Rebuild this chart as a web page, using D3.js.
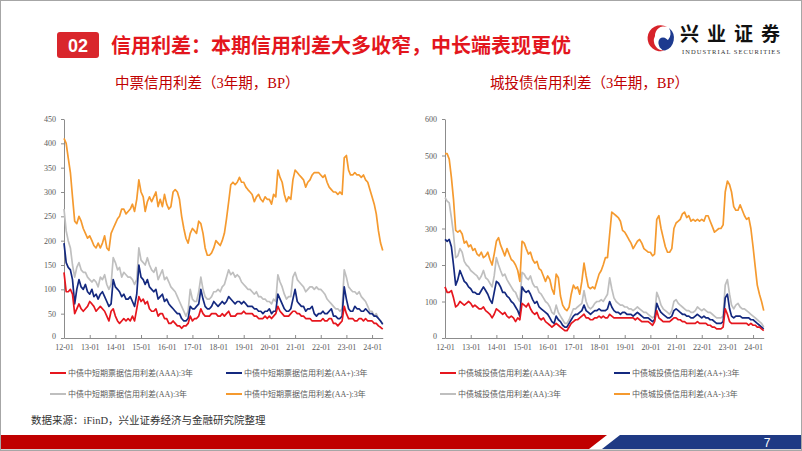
<!DOCTYPE html>
<html><head><meta charset="utf-8">
<script src="https://cdn.jsdelivr.net/npm/d3@7/dist/d3.min.js"></script>
<style>body{margin:0;background:#fff;}svg{display:block}</style>
</head><body>
<svg id="c" width="802" height="451"></svg>
<script>
// ---------- DATA ----------
const months = d3.timeMonth.range(new Date(2012,0,1), new Date(2024,6,1)); // 2012-01 .. 2024-06
const xTickLabels = ["12-01","13-01","14-01","15-01","16-01","17-01","18-01","19-01","20-01","21-01","22-01","23-01","24-01"];
const yTicksLeft = [0,50,100,150,200,250,300,350,400,450];
const yTicksRight = [0,100,200,300,400,500,600];

// 中票 (medium-term notes), 3Y, BP
const mtnAAA = [135,95,95,100,90,50,60,70,60,55,60,65,
 75,70,65,55,60,65,60,55,45,35,55,60,
 45,35,30,35,40,35,40,35,45,35,60,85,
 75,80,70,75,60,55,55,60,45,50,50,40,
 40,30,30,35,30,25,25,20,25,25,30,45,
 35,40,40,45,60,50,45,45,45,50,50,50,
 45,45,50,45,50,55,45,45,45,50,50,50,
 55,50,50,50,50,45,45,40,40,40,45,40,
 45,40,45,50,65,55,50,45,45,45,50,55,
 55,50,50,45,45,40,40,40,35,35,35,35,
 35,40,35,35,40,40,30,30,25,30,35,65,
 50,40,40,40,35,35,40,40,35,40,35,35,
 35,30,30,25,22,18];
const mtnAAp = [195,155,145,140,120,70,100,120,105,100,110,95,
 90,100,85,90,80,90,95,85,75,65,70,120,
 105,100,95,85,90,80,80,85,75,65,90,150,
 125,120,110,120,105,100,95,100,80,85,90,75,
 80,70,65,60,55,50,50,40,35,35,40,65,
 60,60,65,70,100,80,65,60,60,65,75,70,
 65,70,75,70,75,85,80,75,70,75,75,70,
 75,70,65,65,65,60,60,55,55,50,55,55,
 60,50,55,55,90,80,70,60,55,55,60,80,
 100,75,70,65,65,55,60,60,65,50,45,50,
 50,55,50,50,55,60,45,45,40,40,45,105,
 80,60,55,55,65,60,60,55,55,60,55,50,
 50,45,45,40,35,28];
const mtnAA = [265,220,200,185,150,125,145,155,140,135,135,125,
 120,115,120,115,105,125,120,130,110,100,110,165,
 155,140,145,125,135,130,125,125,120,110,120,185,
 160,155,150,165,150,140,135,145,120,130,140,120,
 125,115,105,100,95,85,75,65,55,45,55,100,
 80,75,75,95,125,100,85,80,80,85,95,95,
 100,95,105,110,125,140,130,135,125,130,125,115,
 110,105,100,100,95,90,95,85,85,80,80,75,
 75,70,80,75,130,115,105,90,80,85,85,125,
 135,120,115,110,105,95,100,105,105,100,105,100,
 100,95,90,80,75,70,65,60,60,55,60,140,
 125,105,100,95,95,90,95,85,80,75,65,55,
 55,45,50,40,35,30];
const mtnAAm = [410,400,370,340,290,240,235,250,240,225,215,205,
 210,200,190,185,195,185,195,210,185,180,215,225,
 235,245,250,265,265,255,260,265,275,260,285,325,
 300,290,260,280,290,280,290,300,270,285,270,295,
 275,265,270,300,305,300,285,250,225,205,195,215,
 225,220,215,240,235,215,185,170,170,175,185,200,
 195,190,200,215,245,280,315,320,315,320,330,320,
 320,310,305,300,295,280,290,295,285,280,290,285,
 285,275,295,290,345,330,320,295,280,290,285,325,
 345,340,335,330,325,310,320,325,335,340,340,340,
 335,330,335,320,310,305,300,300,295,300,295,370,
 375,345,335,335,340,335,335,330,335,325,320,305,
 290,275,255,220,195,180];

// 城投债 (LGFV bonds), 3Y, BP
const ctAAA = [140,125,125,130,110,85,90,100,95,90,95,100,
 95,85,90,85,80,80,85,75,70,65,55,65,
 80,75,70,65,70,60,55,60,55,45,55,50,
 95,90,85,95,80,70,65,70,55,50,55,45,
 40,35,30,35,40,35,30,25,20,20,30,40,
 45,50,50,55,60,65,55,55,50,50,55,55,
 60,55,60,55,55,65,60,55,55,55,55,55,
 55,55,55,55,55,50,55,50,45,45,45,45,
 40,35,45,75,55,50,45,45,45,45,50,55,
 55,50,50,45,45,40,40,40,40,40,45,40,
 40,40,40,35,35,30,30,25,25,25,30,80,
 65,45,40,40,40,40,40,40,40,40,35,40,
 35,35,30,30,25,20];
const ctAAp = [270,265,270,250,200,145,160,185,170,155,150,140,
 135,125,125,120,120,130,140,130,120,105,95,125,
 155,150,140,125,125,115,110,100,95,85,75,60,
 140,130,125,130,120,105,95,100,85,80,75,70,
 65,55,45,40,60,50,45,35,30,30,40,50,
 60,65,65,70,75,90,75,70,65,70,75,75,
 80,75,75,75,80,100,85,75,70,70,65,70,
 70,65,65,65,60,65,70,65,60,55,55,55,
 50,45,50,95,80,70,65,60,55,55,60,75,
 80,75,70,65,65,60,60,55,55,60,65,60,
 55,60,55,55,50,50,45,40,40,40,45,110,
 120,80,60,55,60,60,60,55,55,55,55,50,
 50,45,40,35,30,25];
const ctAA = [385,375,370,330,285,220,225,245,235,210,200,195,
 185,180,175,170,160,170,185,165,160,150,140,170,
 220,200,185,170,175,160,150,140,130,125,110,100,
 180,175,165,160,170,150,140,140,125,120,110,100,
 95,85,70,65,90,70,60,50,40,40,50,65,
 80,80,85,90,95,130,100,85,80,85,95,100,
 100,105,100,110,120,165,135,110,100,95,90,90,
 85,85,80,80,75,80,85,80,75,70,70,65,
 60,55,60,125,110,90,80,75,70,65,75,100,
 105,95,90,85,80,75,75,70,70,75,85,80,
 75,80,75,70,70,65,60,55,55,55,60,145,
 160,120,90,80,90,95,85,80,80,75,70,65,
 60,55,50,45,40,30];
const ctAAm = [505,505,490,440,380,295,290,295,285,260,265,250,
 255,240,245,230,225,235,220,225,235,215,200,230,
 265,275,255,240,225,245,230,215,210,200,185,155,
 265,260,245,230,235,215,205,210,190,185,170,155,
 170,160,135,120,175,165,115,90,80,75,85,120,
 145,135,140,120,155,205,170,140,135,140,135,155,
 175,185,200,220,220,285,345,340,335,330,320,295,
 290,280,270,260,245,255,265,270,260,245,240,235,
 235,225,230,325,335,300,275,250,235,235,245,300,
 315,320,325,340,345,330,335,320,325,320,325,320,
 325,320,335,335,320,305,290,295,300,300,310,400,
 430,420,400,360,350,350,365,350,335,325,330,300,
 250,195,145,120,100,75];

const leftNames = ["中债中短期票据信用利差(AAA):3年","中债中短期票据信用利差(AA+):3年","中债中短期票据信用利差(AA):3年","中债中短期票据信用利差(AA-):3年"];
const rightNames = ["中债城投债信用利差(AAA):3年","中债城投债信用利差(AA+):3年","中债城投债信用利差(AA):3年","中债城投债信用利差(AA-):3年"];
const seriesColors = ["#e6161e","#14297f","#bfbfbf","#f59a2f"];

// ---------- DRAW ----------
const svg = d3.select("#c");
const CJK = "'Noto Sans CJK SC','Noto Sans',sans-serif";
const SERIF = "'Liberation Serif','Noto Sans CJK SC',serif";

// frame
svg.append("rect").attr("x",0.5).attr("y",0.5).attr("width",801).attr("height",450)
  .attr("fill","#fff").attr("stroke","#a6a6a6").attr("stroke-width",1);

// header
svg.append("rect").attr("x",57).attr("y",32).attr("width",42).attr("height",26).attr("rx",3).attr("fill","#d9262c");
svg.append("text").attr("x",78).attr("y",51.5).attr("text-anchor","middle").attr("fill","#fff")
  .attr("font-family","'Liberation Sans',Arial,sans-serif").attr("font-weight","bold").attr("font-size",18).text("02");
svg.append("text").attr("x",111).attr("y",53).attr("fill","#e3161d")
  .attr("font-family",CJK).attr("font-weight",700).attr("font-size",20)
  .text("信用利差：本期信用利差大多收窄，中长端表现更优");

// logo
const lg = svg.append("g").attr("transform","translate(661,38)");
lg.append("path").attr("d","M 6 -11 A 13 13 0 1 0 4 12.5 A 10 10 0 0 1 -6 -2 A 9 9 0 0 1 6 -11 Z").attr("fill","#d7232a");
lg.append("path").attr("d","M 8 -10 A 13 13 0 0 1 4 12.5 A 7 7 0 0 1 -2 3 A 6 6 0 0 1 7 2 A 10 10 0 0 0 8 -10 Z").attr("fill","#1d3a8f");
lg.append("circle").attr("cx",2).attr("cy",4).attr("r",4.5).attr("fill","#1d3a8f");
svg.append("text").attr("x",680).attr("y",41).attr("fill","#111").attr("font-family",CJK).attr("font-weight",700)
  .attr("font-size",19).attr("textLength",100).attr("lengthAdjust","spacing").text("兴业证券");
svg.append("text").attr("x",682).attr("y",54).attr("fill","#333").attr("font-family","'Liberation Serif',serif")
  .attr("font-size",6.5).attr("textLength",98).attr("lengthAdjust","spacing").text("INDUSTRIAL SECURITIES");

// subtitles
svg.append("text").attr("x",115).attr("y",88).attr("fill","#c00000").attr("font-family",SERIF).attr("font-size",14.5).text("中票信用利差（3年期，BP）");
svg.append("text").attr("x",490).attr("y",88).attr("fill","#c00000").attr("font-family",SERIF).attr("font-size",14.5).text("城投债信用利差（3年期，BP）");

function chart(x0, yMax, yTicks, series, names, legendX){
  const xEnd = months[months.length-1];
  const x = d3.scaleTime().domain([new Date(2012,0,1), xEnd]).range([x0, x0 + 25.67*12.4167]);
  const y = d3.scaleLinear().domain([0,yMax]).range([338,119]);
  const g = svg.append("g");
  const xa = g.append("g").attr("transform","translate(0,338)")
    .call(d3.axisBottom(x).tickValues(xTickLabels.map((d,i)=>new Date(2012+i,0,1)))
      .tickFormat((d,i)=>xTickLabels[i]).tickSizeInner(-3).tickSizeOuter(0).tickPadding(6));
  const ya = g.append("g").attr("transform",`translate(${x0},0)`)
    .call(d3.axisLeft(y).tickValues(yTicks).tickSizeInner(3).tickSizeOuter(0).tickPadding(5));
  [xa,ya].forEach(a=>{
    a.selectAll("path,line").attr("stroke","#8c8c8c");
    a.selectAll("text").attr("fill","#595959").attr("font-family","'Liberation Serif',serif").attr("font-size",8);
  });
  ya.selectAll(".tick").filter(d=>d===0).select("text").attr("dy","0.1em");
  const line = d3.line().x((d,i)=>x(months[i])).y(d=>y(d));
  const order = [2,1,0,3];
  order.forEach(k=>{
    g.append("path").datum(series[k]).attr("d",line).attr("fill","none")
      .attr("stroke",seriesColors[k]).attr("stroke-width",1.7).attr("stroke-linejoin","round");
  });
  // legend
  const pos = [[legendX[0],373],[legendX[1],373],[legendX[0],394],[legendX[1],394]];
  names.forEach((n,k)=>{
    const [lx,ly] = pos[k];
    svg.append("line").attr("x1",lx).attr("x2",lx+16).attr("y1",ly).attr("y2",ly)
      .attr("stroke",seriesColors[k]).attr("stroke-width",2);
    svg.append("text").attr("x",lx+18).attr("y",ly+3).attr("fill","#595959")
      .attr("font-family",SERIF).attr("font-size",8).text(n);
  });
}
chart(64, 450, yTicksLeft, [mtnAAA,mtnAAp,mtnAA,mtnAAm], leftNames, [50,226]);
chart(445, 600, yTicksRight, [ctAAA,ctAAp,ctAA,ctAAm], rightNames, [440,614]);

// footer
svg.append("text").attr("x",31).attr("y",424).attr("fill","#333").attr("font-family",SERIF).attr("font-size",10.5)
  .text("数据来源：iFinD，兴业证券经济与金融研究院整理");
svg.append("polygon").attr("points","1,435 607,435 589,449 1,449").attr("fill","#c00000");
svg.append("polygon").attr("points","620,435 801,435 801,449 602,449").attr("fill","#1f3a84");
svg.append("line").attr("x1",0).attr("x2",802).attr("y1",450).attr("y2",450).attr("stroke","#a6a6a6");
svg.append("text").attr("x",767).attr("y",447).attr("text-anchor","middle").attr("fill","#fff")
  .attr("font-family","'Liberation Sans',Arial,sans-serif").attr("font-size",12).text("7");
</script>
</body></html>
